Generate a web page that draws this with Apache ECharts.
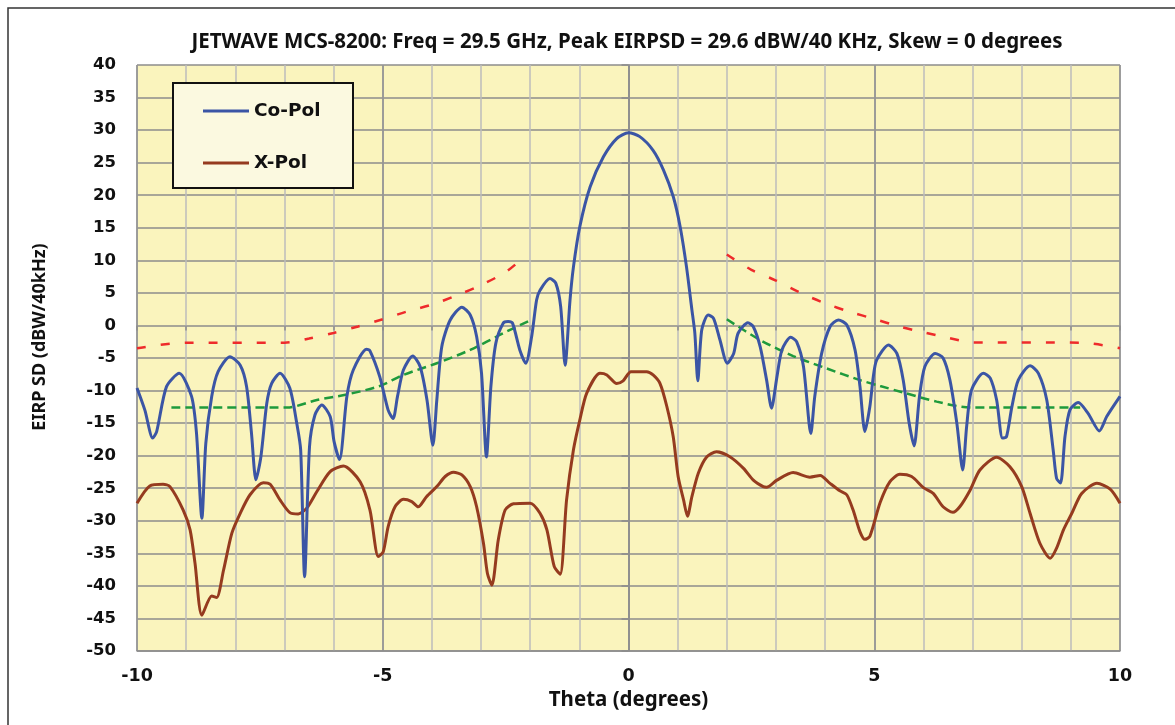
<!DOCTYPE html>
<html>
<head>
<meta charset="utf-8">
<script src="https://cdn.jsdelivr.net/npm/echarts@6/dist/echarts.min.js"></script>
<style>
html,body{margin:0;padding:0;background:#fff;}
#chart{width:1175px;height:725px;}
</style>
</head>
<body>
<div id="chart"></div>
<script>
const chartTitle = 'JETWAVE MCS-8200: Freq = 29.5 GHz, Peak EIRPSD = 29.6 dBW/40 KHz, Skew = 0 degrees';
const xAxisName = 'Theta (degrees)';
const yAxisName = 'EIRP SD (dBW/40kHz)';
const seriesNames = ['Co-Pol', 'X-Pol'];

const coTheta = [-10,-9.84,-9.68,-9.6,-9.4,-9.14,-8.89,-8.79,-8.68,-8.6,-8.48,-8.35,-8.11,-7.9,-7.77,-7.67,-7.58,-7.48,-7.36,-7.26,-7.09,-6.89,-6.75,-6.67,-6.59,-6.49,-6.38,-6.24,-6.07,-5.99,-5.88,-5.73,-5.6,-5.33,-5.26,-5.06,-4.89,-4.79,-4.7,-4.58,-4.39,-4.24,-4.1,-3.98,-3.9,-3.8,-3.63,-3.39,-3.22,-3.09,-2.99,-2.89,-2.8,-2.7,-2.55,-2.45,-2.36,-2.21,-2.09,-1.97,-1.87,-1.8,-1.6,-1.48,-1.38,-1.29,-1.19,-1.12,-0.99,-0.78,-0.51,-0.24,0,0.23,0.5,0.71,0.91,1.05,1.18,1.29,1.35,1.41,1.49,1.62,1.73,1.86,2.01,2.14,2.23,2.43,2.54,2.68,2.81,2.91,3.02,3.12,3.3,3.42,3.56,3.71,3.79,3.93,4.1,4.27,4.44,4.61,4.71,4.81,4.91,4.98,5.05,5.29,5.46,5.59,5.71,5.81,5.92,6.03,6.24,6.4,6.54,6.68,6.8,6.88,6.98,7.22,7.36,7.49,7.61,7.69,7.8,7.93,8.17,8.34,8.51,8.64,8.71,8.79,8.88,8.98,9.15,9.35,9.58,9.73,10];
const coVals = [-9.6,-13.0,-17.3,-16.3,-9.4,-7.35,-10.9,-16.5,-29.6,-18.1,-10.9,-7.1,-4.8,-6.1,-9.4,-16.6,-23.7,-20.2,-12.0,-8.9,-7.35,-9.65,-15.0,-19.1,-38.6,-18.6,-13.75,-12.2,-14.0,-17.85,-20.6,-10.9,-6.85,-3.65,-3.9,-7.9,-13.0,-14.3,-10.9,-6.85,-4.7,-6.3,-11.45,-18.4,-11.45,-3.3,0.8,2.8,1.6,-1.7,-7.35,-20.2,-9.4,-2.75,0.35,0.6,0.35,-3.8,-5.8,-1.7,3.9,5.4,7.2,6.5,2.9,-6.1,3.9,9.0,15.2,21.3,25.9,28.7,29.6,29.0,26.9,23.9,19.8,15.2,9.0,2.4,-1.2,-8.5,-0.7,1.6,1.1,-2.2,-5.8,-4.3,-1.2,0.4,-0.2,-3.3,-8.4,-12.7,-7.9,-3.8,-1.8,-2.5,-6.3,-16.6,-10.9,-4.3,-0.2,0.85,0.1,-3.8,-9.4,-16.3,-12.5,-7.9,-5.3,-3.0,-4.3,-8.4,-15.0,-18.5,-10.9,-6.3,-4.3,-5.0,-8.4,-15.0,-22.2,-15.5,-9.9,-7.35,-8.1,-11.45,-17.3,-17.1,-12.5,-8.4,-6.2,-7.35,-11.45,-19.1,-23.5,-24.2,-17.1,-13.0,-11.85,-13.5,-16.2,-14.0,-10.9];

const xpTheta = [-10,-9.74,-9.47,-9.33,-9.06,-8.92,-8.82,-8.68,-8.48,-8.38,-8.24,-8.07,-7.9,-7.7,-7.43,-7.29,-7.09,-6.89,-6.72,-6.55,-6.34,-6.07,-5.8,-5.46,-5.26,-5.09,-4.99,-4.89,-4.75,-4.58,-4.41,-4.28,-4.11,-3.9,-3.73,-3.56,-3.39,-3.22,-3.09,-2.95,-2.87,-2.78,-2.65,-2.51,-2.34,-2.0,-1.8,-1.66,-1.51,-1.39,-1.26,-1.12,-0.99,-0.85,-0.58,-0.44,-0.24,-0.11,0.05,0.37,0.5,0.64,0.78,0.91,1.01,1.12,1.2,1.29,1.42,1.59,1.79,2.07,2.34,2.54,2.74,2.81,3.02,3.35,3.69,3.9,4.1,4.3,4.44,4.57,4.71,4.81,4.91,5.12,5.32,5.52,5.76,6.0,6.2,6.4,6.6,6.74,6.95,7.15,7.49,7.76,8.0,8.17,8.37,8.58,8.71,8.85,9.02,9.22,9.53,9.8,10];
const xpVals = [-27.3,-24.65,-24.4,-24.75,-28.35,-31.4,-36.5,-44.5,-41.55,-41.8,-37.6,-31.9,-28.85,-26.0,-24.15,-24.4,-26.8,-28.75,-28.95,-28.1,-25.5,-22.45,-21.6,-24.0,-28.35,-35.5,-34.75,-30.9,-27.85,-26.7,-27.05,-27.85,-26.3,-24.75,-23.2,-22.55,-22.95,-24.75,-27.85,-33.5,-38.1,-39.9,-32.95,-28.35,-27.4,-27.3,-28.85,-31.4,-37.05,-38.2,-26.8,-19.1,-14.5,-10.4,-7.35,-7.6,-8.9,-8.5,-7.1,-7.1,-7.6,-8.9,-12.45,-17.1,-23.2,-26.8,-29.3,-26.3,-22.7,-20.2,-19.4,-20.2,-21.95,-23.75,-24.75,-24.85,-23.75,-22.6,-23.3,-23.05,-24.25,-25.4,-26.0,-28.35,-31.7,-32.85,-32.4,-27.2,-24.0,-22.85,-23.2,-24.9,-25.8,-27.85,-28.7,-27.85,-25.3,-22.2,-20.25,-21.7,-24.75,-28.85,-33.45,-35.75,-34.2,-31.4,-28.85,-25.8,-24.25,-25.15,-27.3];

const redLeftTheta = [-10,-9,-7,-6.5,-6,-5.5,-5,-4.5,-4,-3.5,-3,-2.5,-2.22];
const redLeftVals = [-3.5,-2.65,-2.65,-2.0,-1.15,-0.15,0.95,2.15,3.2,4.6,6.2,8.2,9.9];
const redRightTheta = [2,2.5,3,3.5,4,4.5,5,5.5,6,6.5,7,9.2,10];
const redRightVals = [10.9,8.55,6.9,5.0,3.4,2.1,1.0,-0.15,-1.05,-1.9,-2.6,-2.65,-3.5];

const greenLeftTheta = [-9.3,-6.95,-6.34,-5.73,-5.06,-4.58,-3.9,-3.22,-2.55,-1.97];
const greenLeftVals = [-12.6,-12.6,-11.45,-10.6,-9.3,-7.6,-5.8,-3.75,-1.2,0.9];
const greenRightTheta = [2.0,2.68,3.35,4.03,4.71,5.12,5.59,6.27,6.95,9.19];
const greenRightVals = [0.95,-2.25,-4.7,-6.6,-8.4,-9.3,-10.3,-11.7,-12.6,-12.6];

const xTickLabels = [-10,-5,0,5,10];

function pairs(t, v){ return t.map((x,i)=>[x, v[i]]); }

const chart = echarts.init(document.getElementById('chart'), null, {renderer:'canvas'});

const lineBase = {type:'line', showSymbol:false, symbol:'none', silent:true, animation:false};
const redStyle = {color:'#EE2B2B', width:2.5, type:[9,15]};
const greenStyle = {color:'#1E9A3C', width:2.5, type:[9,5]};

const option = {
  animation:false,
  backgroundColor:'#ffffff',
  grid:{left:137, top:65, width:983, height:586, show:true, backgroundColor:'#FAF4BD', borderWidth:0},
  legend:{
    data:[{name:seriesNames[0]},{name:seriesNames[1]}],
    orient:'vertical', left:198, top:95, itemWidth:46, itemHeight:3, icon:'rect',
    itemGap:30, z:200,
    textStyle:{fontFamily:'DejaVu Sans', fontWeight:'bold', fontSize:18.5, color:'#111', lineHeight:22, padding:[0,0,0,0]}
  },
  xAxis:[
    {type:'value', min:-10, max:10, interval:1, position:'bottom',
     axisLine:{show:false}, axisTick:{show:true, length:5, lineStyle:{color:'#8C8C8C', width:1.5}}, axisLabel:{show:false},
     splitLine:{show:true, lineStyle:{color:'#BDBDBD', width:1.5}}},
    {type:'value', min:-10, max:10, interval:5, position:'bottom',
     name:xAxisName, nameLocation:'middle', nameGap:33,
     nameTextStyle:{fontFamily:'Noto Sans', fontWeight:'bold', fontSize:20.5, color:'#111'},
     axisLine:{show:true, lineStyle:{color:'#8C8C8C', width:1.5}},
     axisTick:{show:false},
     axisLabel:{margin:16, fontFamily:'DejaVu Sans', fontWeight:'bold', fontSize:17.5, color:'#111',
       formatter:(v)=> xTickLabels.includes(v) ? String(v) : ''},
     splitLine:{show:true, lineStyle:{color:'#8C8C8C', width:1.5}}}
  ],
  yAxis:{type:'value', min:-50, max:40, interval:5,
    axisLine:{show:true, lineStyle:{color:'#8C8C8C', width:1.5}},
    axisTick:{show:true, length:7, lineStyle:{color:'#8C8C8C', width:1.5}},
    axisLabel:{margin:21, fontFamily:'DejaVu Sans', fontWeight:'bold', fontSize:16.5, color:'#111'},
    splitLine:{show:true, lineStyle:{color:'#8C8C8C', width:1.5}}},
  graphic:[
    {type:'rect', shape:{x:8, y:8, width:1190, height:740}, style:{fill:'none', stroke:'#333', lineWidth:1.5}, z:0, silent:true},
    {type:'text', x:627, y:42, style:{text:chartTitle, fontFamily:'Noto Sans', fontWeight:'bold', fontSize:20.5, fill:'#111', align:'center', verticalAlign:'middle'}, z:10},
    {type:'rect', shape:{x:173, y:83, width:180, height:105}, style:{fill:'#FBF9E0', stroke:'#111', lineWidth:2}, z:150, silent:true},
    {type:'text', x:40, y:337, rotation:Math.PI/2, style:{text:yAxisName, fontFamily:'Noto Sans', fontWeight:'bold', fontSize:18, fill:'#111', align:'center', verticalAlign:'middle'}, z:10}
  ],
  series:[
    Object.assign({}, lineBase, {name:'redL', data:pairs(redLeftTheta, redLeftVals), lineStyle:redStyle, smooth:0.3, z:3}),
    Object.assign({}, lineBase, {name:'redR', data:pairs(redRightTheta, redRightVals), lineStyle:redStyle, smooth:0.3, z:3}),
    Object.assign({}, lineBase, {name:'greenL', data:pairs(greenLeftTheta, greenLeftVals), lineStyle:greenStyle, smooth:0.3, z:3}),
    Object.assign({}, lineBase, {name:'greenR', data:pairs(greenRightTheta, greenRightVals), lineStyle:greenStyle, smooth:0.3, z:3}),
    Object.assign({}, lineBase, {name:seriesNames[1], data:pairs(xpTheta, xpVals), color:'#953B1F', lineStyle:{color:'#953B1F', width:3}, smooth:0.25, z:4}),
    Object.assign({}, lineBase, {name:seriesNames[0], data:pairs(coTheta, coVals), color:'#3B55A5', lineStyle:{color:'#3B55A5', width:3}, smooth:0.25, z:5})
  ]
};
chart.setOption(option);
</script>
</body>
</html>
